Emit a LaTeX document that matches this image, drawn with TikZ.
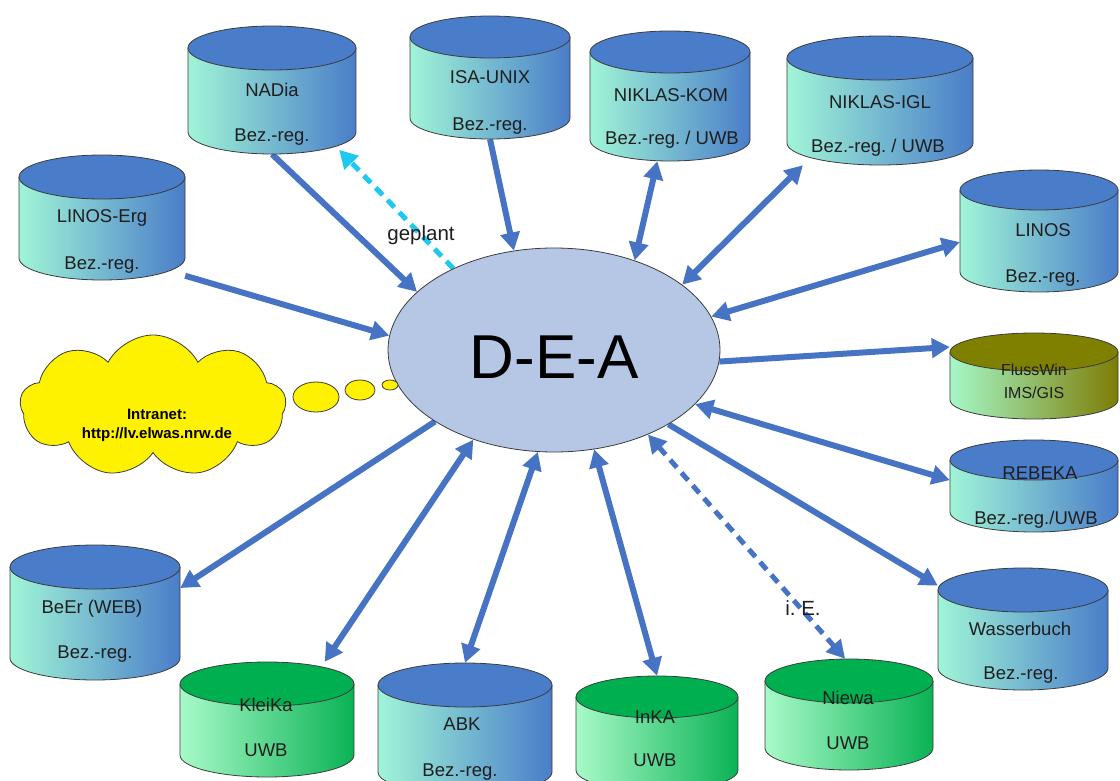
\documentclass[tikz,border=0pt]{standalone}
\usepackage{fontspec}
\setmainfont{Liberation Sans}
\usetikzlibrary{shapes.geometric,shapes.symbols,arrows.meta}
\pgfdeclarelayer{background}
\pgfsetlayers{background,main}
\frenchspacing
\definecolor{bluetop}{RGB}{74,125,201}
\definecolor{blueleft}{RGB}{160,245,215}
\definecolor{blueright}{RGB}{74,125,201}
\definecolor{greentop}{RGB}{0,176,80}
\definecolor{greenleft}{RGB}{168,250,200}
\definecolor{greenright}{RGB}{10,178,85}
\definecolor{olivetop}{RGB}{128,128,0}
\definecolor{oliveleft}{RGB}{165,248,200}
\definecolor{oliveright}{RGB}{125,125,5}
\definecolor{arrowblue}{RGB}{70,115,196}
\definecolor{dashcyan}{RGB}{30,200,240}
\definecolor{deafill}{RGB}{182,199,230}
\definecolor{outline}{RGB}{60,60,60}
\definecolor{txt}{RGB}{30,30,30}
\newcommand{\dbcyl}[7]{%
  \shade[left color=#7left, right color=#7right] ({#2-#5},#3) -- ({#2-#5},#4) arc[start angle=180,end angle=360,x radius=#5pt,y radius=#6pt] -- ({#2+#5},#3) -- cycle;
  \draw[outline, line width=0.8pt] ({#2-#5},#3) -- ({#2-#5},#4) arc[start angle=180,end angle=360,x radius=#5pt,y radius=#6pt] -- ({#2+#5},#3);
  \filldraw[fill=#7top, draw=outline, line width=0.8pt] (#2,#3) ellipse [x radius=#5pt, y radius=#6pt];
  \node[inner sep=0pt, minimum width={2*#5pt}, minimum height={(#4-#3+2*#6)*1pt}] (#1) at (#2,{(#3+#4)/2}) {};
}
\tikzset{
  >={Triangle[length=18pt,width=19pt]},
  conn/.style={draw=arrowblue, line width=6pt},
  dcyan/.style={draw=dashcyan, line width=5pt, dash pattern=on 10pt off 7pt},
  dblue/.style={draw=arrowblue, line width=5pt, dash pattern=on 10pt off 7pt},
  lbl/.style={font=\fontsize{18.5}{21}\selectfont, text=txt, inner sep=0pt, anchor=base, yshift=-6.6pt},
  slbl/.style={font=\fontsize{16}{19}\selectfont, text=txt, inner sep=0pt, anchor=base, yshift=-5.7pt},
  clbl/.style={font=\fontsize{15}{18}\selectfont\bfseries, text=black, inner sep=0pt, anchor=base, yshift=-5.4pt},
  note/.style={font=\fontsize{20.5}{23}\selectfont, text=txt, inner sep=0pt, anchor=base, yshift=-7.3pt},
  bubble/.style={ellipse, draw=outline, line width=0.8pt, fill=yellow, inner sep=0pt},
}
\begin{document}
\begin{tikzpicture}[x=1pt,y=-1pt]
\useasboundingbox (0,0) rectangle (1120,781);
% cylinders
\dbcyl{nadia}{272}{48}{132}{84}{22}{blue}
\dbcyl{isa}{490}{37}{118}{80}{21}{blue}
\dbcyl{kom}{670}{52}{140}{80}{21}{blue}
\dbcyl{igl}{880}{58}{143}{93}{22}{blue}
\dbcyl{linoserg}{102}{177}{258}{83}{22}{blue}
\dbcyl{linos}{1039}{190}{272}{79}{20}{blue}
\dbcyl{fluss}{1034}{352}{400}{84}{19}{olive}
\dbcyl{rebeka}{1034}{460}{512}{84}{20}{blue}
\dbcyl{wasser}{1023}{590}{668}{85}{22}{blue}
\dbcyl{niewa}{849}{681}{748}{84}{22}{green}
\dbcyl{inka}{657}{697}{770}{81}{21}{green}
\dbcyl{abk}{465}{685}{772}{87}{22}{blue}
\dbcyl{kleika}{267}{684}{755}{87}{22}{green}
\dbcyl{beer}{95}{567}{658}{85}{22}{blue}
% central node
\node[ellipse, draw=outline, line width=0.8pt, fill=deafill, minimum width=332pt, minimum height=204pt, inner sep=0pt] (dea) at (554,350) {};
\node[font=\fontsize{62}{70}\selectfont, text=black, inner sep=0pt, anchor=base, yshift=-22pt] (deat) at (554,356) {D-E-A};
% cloud
\node[cloud, cloud puffs=9, cloud puff arc=125, aspect=1.85, draw=outline, line width=0.8pt, fill=yellow, minimum width=266pt, minimum height=142pt, inner sep=0pt] (cloud) at (153,406) {};
\node[bubble, minimum width=46pt, minimum height=30pt] (b1) at (316,397) {};
\node[bubble, minimum width=30pt, minimum height=20pt] (b2) at (360,390) {};
\node[bubble, minimum width=16pt, minimum height=10pt] (b3) at (390,385) {};
\node[clbl] (cl1) at (157,414) {Intranet:};
\node[clbl] (cl2) at (157,433) {http://lv.elwas.nrw.de};
% labels
\node[lbl] (nadia1) at (272,90) {NADia};
\node[lbl] (nadia2) at (272,135) {Bez.-reg.};
\node[lbl] (isa1) at (490,77) {ISA-UNIX};
\node[lbl] (isa2) at (490,124) {Bez.-reg.};
\node[lbl] (kom1) at (671,95) {NIKLAS-KOM};
\node[lbl] (kom2) at (672,138) {Bez.-reg. / UWB};
\node[lbl] (igl1) at (880,102) {NIKLAS-IGL};
\node[lbl] (igl2) at (878,146) {Bez.-reg. / UWB};
\node[lbl] (linoserg1) at (102,216) {LINOS-Erg};
\node[lbl] (linoserg2) at (102,263) {Bez.-reg.};
\node[lbl] (linos1) at (1043,230) {LINOS};
\node[lbl] (linos2) at (1043,276) {Bez.-reg.};
\node[slbl] (fluss1) at (1034,370) {FlussWin};
\node[slbl] (fluss2) at (1034,393) {IMS/GIS};
\node[lbl] (rebeka1) at (1040,473) {REBEKA};
\node[lbl] (rebeka2) at (1036,518) {Bez.-reg./UWB};
\node[lbl] (wasser1) at (1020,629) {Wasserbuch};
\node[lbl] (wasser2) at (1021,673) {Bez.-reg.};
\node[lbl] (niewa1) at (848,698) {Niewa};
\node[lbl] (niewa2) at (848,743) {UWB};
\node[lbl] (inka1) at (655,717) {InKA};
\node[lbl] (inka2) at (655,760) {UWB};
\node[lbl] (abk1) at (462,724) {ABK};
\node[lbl] (abk2) at (460,770) {Bez.-reg.};
\node[lbl] (kleika1) at (266,705) {KleiKa};
\node[lbl] (kleika2) at (266,750) {UWB};
\node[lbl] (beer1) at (92,607) {BeEr (WEB)};
\node[lbl] (beer2) at (95,652) {Bez.-reg.};
\node[note] (geplant) at (421,233) {geplant};
\node[note] (ie) at (803,608) {i. E.};
% connectors
\begin{pgfonlayer}{background}
\draw[conn,->] (nadia.south) -- (dea.157.7);
\draw[dcyan,->,shorten >=-6pt] (dea.141) -- (nadia.-42);
\draw[conn,->] (isa.south) -- (dea.112);
\draw[conn,<->] (kom.259) -- (dea.48);
\draw[conn,<->] (igl.220) -- (dea.27);
\draw[conn,<->] (linos.188) -- (dea.12.6);
\draw[conn,->] (dea.-4) -- (fluss.161);
\draw[conn,<->] (rebeka.176) -- (dea.-21.7);
\draw[conn,->] (dea.-33) -- (wasser.153);
\draw[dblue,<->] (dea.-42) -- (niewa.94);
\draw[conn,<->] (inka.north) -- (dea.-68);
\draw[conn,<->] (abk.north) -- (dea.-99.5);
\draw[conn,<->] (kleika.45) -- (dea.228.7);
\draw[conn,->] (dea.211.5) -- (beer.16);
\draw[conn,->] (linoserg.-35) -- (dea.175.4);
\end{pgfonlayer}
\end{tikzpicture}
\end{document}
